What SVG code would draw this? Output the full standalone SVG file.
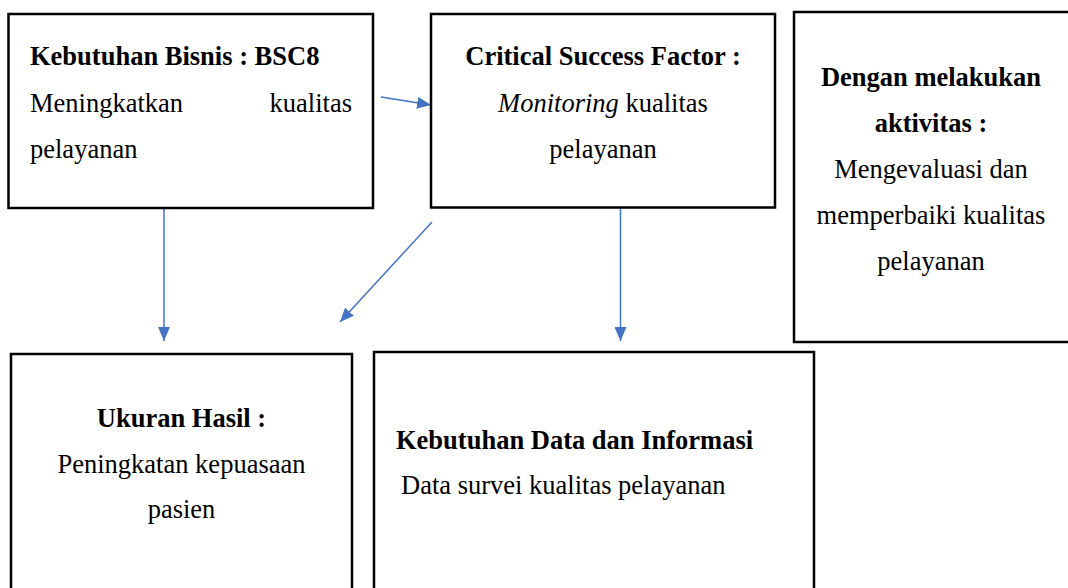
<svg xmlns="http://www.w3.org/2000/svg" width="1068" height="588" viewBox="0 0 1068 588">
  <style>
    .box { fill: #ffffff; stroke: #000000; stroke-width: 2.5; }
    .t { font-family: "Liberation Serif", "Times New Roman", serif; font-size: 26.5px; fill: #000000; }
    .b { font-weight: bold; }
    .i { font-style: italic; }
    .c { text-anchor: middle; }
    .link { stroke: #4472C4; stroke-width: 1.5; fill: none; marker-end: url(#arrow); }
  </style>
  <defs>
    <marker id="arrow" markerUnits="userSpaceOnUse" markerWidth="14" markerHeight="12" refX="14" refY="6" orient="auto">
      <path d="M0,0 L14,6 L0,12 Z" fill="#4472C4"/>
    </marker>
  </defs>

  <rect width="1068" height="588" fill="#ffffff"/>

  <g id="connectors">
    <line class="link" x1="381" y1="97" x2="431" y2="105"/>
    <line class="link" x1="164" y1="208" x2="164" y2="341"/>
    <line class="link" x1="432" y1="222" x2="340" y2="322"/>
    <line class="link" x1="620.5" y1="208" x2="620.5" y2="341"/>
  </g>

  <g id="node-kebutuhan-bisnis">
    <rect class="box" x="8.5" y="14" width="364.5" height="194"/>
    <text class="t b" x="30" y="65">Kebutuhan Bisnis : BSC8</text>
    <text class="t" x="30" y="111.5">Meningkatkan</text>
    <text class="t" x="352" y="111.5" text-anchor="end">kualitas</text>
    <text class="t" x="30" y="158">pelayanan</text>
  </g>

  <g id="node-csf">
    <rect class="box" x="431" y="14" width="344" height="193.5"/>
    <text class="t b c" x="603" y="65">Critical Success Factor :</text>
    <text class="t c" x="603" y="112"><tspan class="i">Monitoring</tspan> kualitas</text>
    <text class="t c" x="603" y="158">pelayanan</text>
  </g>

  <g id="node-aktivitas">
    <rect class="box" x="794" y="12" width="290" height="330"/>
    <text class="t b c" x="931" y="86">Dengan melakukan</text>
    <text class="t b c" x="931" y="132">aktivitas :</text>
    <text class="t c" x="931" y="178">Mengevaluasi dan</text>
    <text class="t c" x="931" y="224">memperbaiki kualitas</text>
    <text class="t c" x="931" y="270">pelayanan</text>
  </g>

  <g id="node-ukuran-hasil">
    <rect class="box" x="11" y="354" width="341" height="250"/>
    <text class="t b c" x="181.5" y="427">Ukuran Hasil :</text>
    <text class="t c" x="181.5" y="473">Peningkatan kepuasaan</text>
    <text class="t c" x="181.5" y="518">pasien</text>
  </g>

  <g id="node-data-informasi">
    <rect class="box" x="374" y="352" width="440" height="250"/>
    <text class="t b" x="396" y="449">Kebutuhan Data dan Informasi</text>
    <text class="t" x="401" y="494">Data survei kualitas pelayanan</text>
  </g>
</svg>
